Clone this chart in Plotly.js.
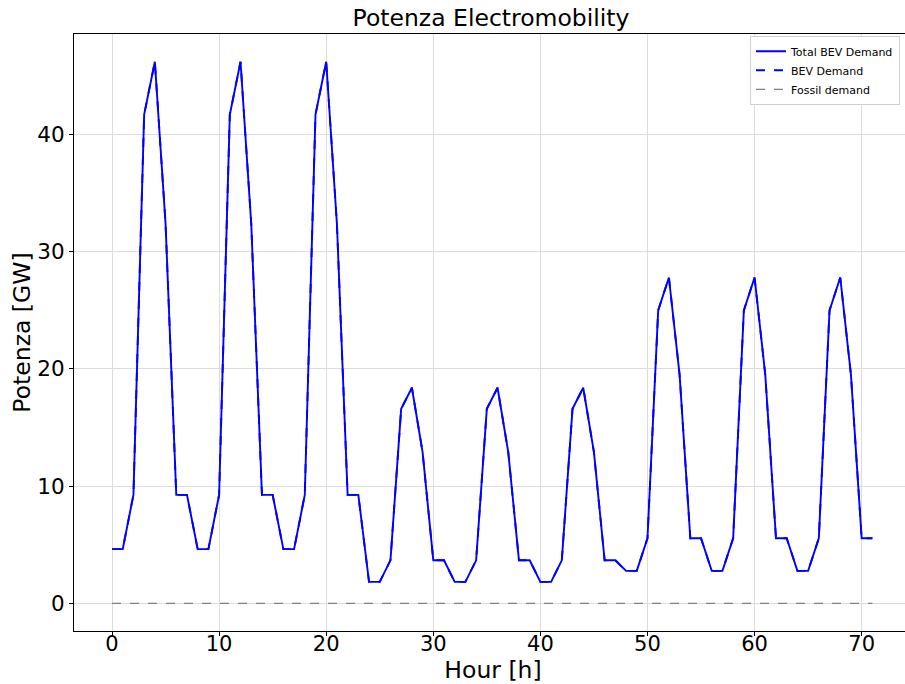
<!DOCTYPE html>
<html>
<head>
<meta charset="utf-8">
<script src="https://cdn.plot.ly/plotly-3.0.1.min.js"></script>
<style>
html,body{margin:0;padding:0;background:#fff;overflow:hidden;}
#wrap{width:905px;height:684px;overflow:hidden;position:relative;}
#chart{width:912px;height:684px;}
</style>
</head>
<body>
<div id="wrap"><div id="chart"></div></div>
<script>
const hours = [0,1,2,3,4,5,6,7,8,9,10,11,12,13,14,15,16,17,18,19,20,21,22,23,
  24,25,26,27,28,29,30,31,32,33,34,35,36,37,38,39,40,41,42,43,44,45,46,47,
  48,49,50,51,52,53,54,55,56,57,58,59,60,61,62,63,64,65,66,67,68,69,70,71];

const totalBevDemand = [
  4.63,4.63,9.26,41.7,46.2,32.4,9.26,9.26,
  4.63,4.63,9.26,41.7,46.2,32.4,9.26,9.26,
  4.63,4.63,9.26,41.7,46.2,32.4,9.26,9.26,
  1.84,1.84,3.68,16.6,18.4,12.9,3.68,3.68,
  1.84,1.84,3.68,16.6,18.4,12.9,3.68,3.68,
  1.84,1.84,3.68,16.6,18.4,12.9,3.68,3.68,
  2.78,2.78,5.56,25.0,27.8,19.5,5.56,5.56,
  2.78,2.78,5.56,25.0,27.8,19.5,5.56,5.56,
  2.78,2.78,5.56,25.0,27.8,19.5,5.56,5.56];

const bevDemand = [
  4.63,4.63,9.26,41.7,46.2,32.4,9.26,9.26,
  4.63,4.63,9.26,41.7,46.2,32.4,9.26,9.26,
  4.63,4.63,9.26,41.7,46.2,32.4,9.26,9.26,
  1.84,1.84,3.68,16.6,18.4,12.9,3.68,3.68,
  1.84,1.84,3.68,16.6,18.4,12.9,3.68,3.68,
  1.84,1.84,3.68,16.6,18.4,12.9,3.68,3.68,
  2.78,2.78,5.56,25.0,27.8,19.5,5.56,5.56,
  2.78,2.78,5.56,25.0,27.8,19.5,5.56,5.56,
  2.78,2.78,5.56,25.0,27.8,19.5,5.56,5.56];

const fossilDemand = [
  0,0,0,0,0,0,0,0,0,0,0,0,0,0,0,0,0,0,0,0,0,0,0,0,
  0,0,0,0,0,0,0,0,0,0,0,0,0,0,0,0,0,0,0,0,0,0,0,0,
  0,0,0,0,0,0,0,0,0,0,0,0,0,0,0,0,0,0,0,0,0,0,0,0];

const seriesNames = ["Total BEV Demand", "BEV Demand", "Fossil demand"];
const xTicks = [0,10,20,30,40,50,60,70];
const yTicks = [0,10,20,30,40];

const FONT = "DejaVu Sans, sans-serif";

const traces = [
  {x: hours, y: totalBevDemand, name: seriesNames[0], type: "scatter", mode: "lines",
   line: {color: "#0000ff", width: 1.9}},
  {x: hours, y: bevDemand, name: seriesNames[1], type: "scatter", mode: "lines",
   line: {color: "#0000ff", width: 1.9, dash: "dash"}},
  {x: hours, y: fossilDemand, name: seriesNames[2], type: "scatter", mode: "lines",
   line: {color: "#808080", width: 1.3, dash: "dash"}}
];

const layout = {
  width: 912, height: 684,
  margin: {l: 74, r: 0, t: 34, b: 53, pad: 0},
  paper_bgcolor: "#ffffff", plot_bgcolor: "#ffffff",
  font: {family: FONT, color: "#000000"},
  title: {text: "Potenza Electromobility", font: {family: FONT, size: 23.5, color: "#000"},
          xref: "container", x: 491/912, xanchor: "center",
          yref: "container", y: 1 - 18/684, yanchor: "middle"},
  showlegend: true,
  legend: {x: (900 - 74) / 838, y: 0.997, xanchor: "right", yanchor: "top",
           bgcolor: "rgba(255,255,255,0.9)", bordercolor: "#d0d0d0", borderwidth: 1,
           font: {family: FONT, size: 11, color: "#000"}, tracegroupgap: 0},
  xaxis: {range: [-3.55, 74.7], tickvals: xTicks, ticktext: xTicks.map(String),
          showgrid: true, gridcolor: "#dcdcdc", gridwidth: 1, zeroline: false,
          showline: true, linecolor: "#000", linewidth: 1, mirror: true,
          ticks: "outside", ticklen: 4, tickcolor: "#000", tickwidth: 1,
          ticklabelstandoff: -10,
          tickfont: {family: FONT, size: 21, color: "#000"},
          title: {text: "Hour [h]", font: {family: FONT, size: 23.5, color: "#000"}, standoff: 6}},
  yaxis: {range: [-2.35, 48.57], tickvals: yTicks, ticktext: yTicks.map(String),
          showgrid: true, gridcolor: "#dcdcdc", gridwidth: 1, zeroline: false,
          showline: true, linecolor: "#000", linewidth: 1, mirror: false,
          ticks: "outside", ticklen: 4, tickcolor: "#000", tickwidth: 1,
          tickfont: {family: FONT, size: 21.5, color: "#000"},
          title: {text: "Potenza [GW]", font: {family: FONT, size: 23.5, color: "#000"}, standoff: 0}}
};

Plotly.newPlot("chart", traces, layout, {displayModeBar: false, staticPlot: true});
</script>
</body>
</html>
